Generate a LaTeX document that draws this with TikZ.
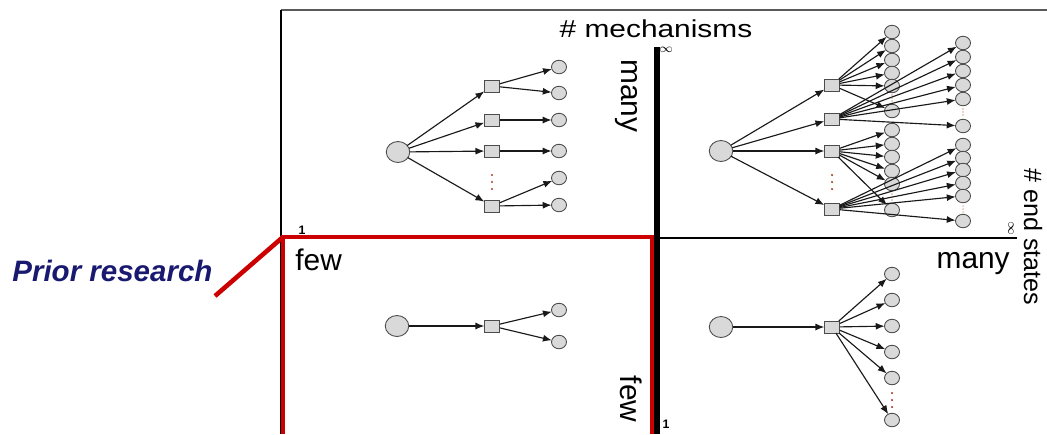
\documentclass[tikz,border=0pt]{standalone}
\usepackage{fontspec}
\setmainfont{Liberation Sans}
\usepackage{tikz}
\usepackage{tkz-graph}
\usetikzlibrary{shapes,arrows.meta}

\definecolor{priorblue}{RGB}{25,25,112}
\definecolor{priorred}{RGB}{204,0,0}
\definecolor{vertexgray}{RGB}{217,217,217}
\definecolor{dotred}{RGB}{170,60,40}

\begin{document}
\begin{tikzpicture}[x=0.02cm,y=-0.02cm,
    leaf/.style={ellipse,minimum width=0.30cm,minimum height=0.27cm},
    init/.style={ellipse,minimum width=0.47cm,minimum height=0.42cm},
    mech/.style={rectangle,minimum width=0.31cm,minimum height=0.24cm},
    axislabel/.style={font=\fontsize{17}{20}\selectfont},
    tick/.style={font=\fontsize{7}{8}\selectfont\bfseries,inner sep=0pt},
    gap/.style={fill=dotred}]
  \useasboundingbox (0,0) rectangle (1047,434);
  \GraphInit[vstyle=normal]
  \SetVertexNoLabel
  \tikzset{VertexStyle/.style={draw=black!70,fill=vertexgray,line width=0.5pt,inner sep=0pt,leaf},
    EdgeStyle/.style={draw=black!90,line width=0.65pt,-{Latex[length=5pt,width=4pt]}}}

  % frame and axes
  \coordinate (frameNW) at (281,10);
  \coordinate (frameNE) at (1047,10);
  \coordinate (frameSW) at (281,434);
  \coordinate (ytop) at (657,47);
  \coordinate (ybot) at (657,434);
  \coordinate (xleft) at (281,238);
  \coordinate (xright) at (1017,238);
  \draw[black!65,line width=1.1pt] (frameNW) -- (frameNE);
  \draw[line width=0.6pt] (frameNW) -- (frameSW);
  \draw[line width=1.1pt] (xleft) -- (xright);

  % prior research box
  \coordinate (prSW) at (283,434);
  \coordinate (prNW) at (283,237);
  \coordinate (prNE) at (652,237);
  \coordinate (prSE) at (652,434);
  \coordinate (prTail) at (215,296);
  \draw[priorred,line width=2pt] (prSW) -- (prNW) -- (prNE) -- (prSE);
  \draw[priorred,line width=2.6pt] (prNW) -- (prTail);
  \draw[line width=3pt] (ytop) -- (ybot);

  \node[axislabel,yscale=0.82,anchor=base] (mechtitle) at (656,37) {\# mechanisms};
  \node[axislabel,rotate=-90] (mechmany) at (626,96) {many};
  \node[axislabel,rotate=-90] (mechfew) at (631,399) {few};
  \node[axislabel,anchor=base west,inner sep=0pt] (endfew) at (295,270) {few};
  \node[axislabel,anchor=base east,inner sep=0pt] (endmany) at (1010,268) {many};
  \node[font=\fontsize{14.3}{16}\selectfont,rotate=-90] (endtitle) at (1033,237) {\# end states};
  \node[tick] (mechinf) at (666,50) {$\infty$};
  \node[tick,rotate=-90] (endinf) at (1011,228) {$\infty$};
  \node[tick] (endone) at (302,230) {1};
  \node[tick] (mechone) at (666,424) {1};
  \node[font=\fontsize{16.8}{19}\selectfont\bfseries\itshape,text=priorblue,
    anchor=base west,inner sep=0pt] (prior) at (12,281) {Prior research};

  % initial states
  \begin{scope}[VertexStyle/.append style=init]
    \Vertex[x=398,y=152]{mf0}
    \Vertex[x=721,y=151]{mm0}
    \Vertex[x=397,y=326]{ff0}
    \Vertex[x=721,y=327]{fm0}
  \end{scope}

  % mechanisms
  \begin{scope}[VertexStyle/.append style=mech]
    \foreach \i/\y in {1/86,2/120,3/151,4/206}{\Vertex[x=492,y=\y]{mf\i}}
    \foreach \i/\y in {1/85,2/119,3/151,4/209}{\Vertex[x=832,y=\y]{mm\i}}
    \Vertex[x=492,y=326]{ff1}
    \Vertex[x=832,y=327]{fm1}
  \end{scope}

  % end states
  \foreach \i/\y in {a/67,b/93,c/120,d/151,e/178,f/205}{\Vertex[x=559,y=\y]{mf\i}}
  \foreach \i/\y in {1/32,2/46,3/60,4/73,5/86,6/111,7/130,8/144,9/157,10/171,11/184,12/210}{\Vertex[x=892,y=\y]{mmx\i}}
  \foreach \i/\y in {1/43,2/57,3/71,4/85,5/99,6/126,7/145,8/158,9/170,10/183,11/196,12/221}{\Vertex[x=963,y=\y]{mmy\i}}
  \Vertex[x=559,y=310]{ffa}
  \Vertex[x=559,y=342]{ffb}
  \foreach \i/\y in {a/274,b/300,c/326,d/352,e/378,f/420}{\Vertex[x=892,y=\y]{fm\i}}

  % many mechanisms, few end states
  \foreach \i in {1,...,4}{\Edge(mf0)(mf\i)}
  \Edge(mf1)(mfa)
  \Edge(mf1)(mfb)
  \Edge(mf2)(mfc)
  \Edge(mf3)(mfd)
  \Edge(mf4)(mfe)
  \Edge(mf4)(mff)

  % many mechanisms, many end states
  \foreach \i in {1,...,4}{\Edge(mm0)(mm\i)}
  \foreach \i in {1,...,6}{\Edge(mm1)(mmx\i)\Edge(mm2)(mmy\i)}
  \foreach \i in {7,...,12}{\Edge(mm3)(mmx\i)\Edge(mm4)(mmy\i)}

  % few mechanisms
  \Edge(ff0)(ff1)
  \Edge(ff1)(ffa)
  \Edge(ff1)(ffb)
  \Edge(fm0)(fm1)
  \foreach \i in {a,...,f}{\Edge(fm1)(fm\i)}

  % elided vertices
  \foreach \x/\y in {492/182,832/182,892/400}{\foreach \d in {-7,0,7}{\fill[gap] (\x,\y+\d) circle (0.7pt);}}
  \foreach \x/\y in {892/98,963/112,892/197,963/209}{\foreach \d in {-3,0,3}{\fill[gap] (\x,\y+\d) circle (0.3pt);}}
\end{tikzpicture}
\end{document}
